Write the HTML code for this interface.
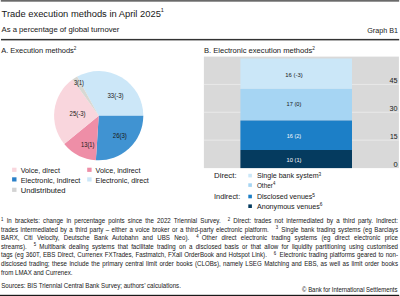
<!DOCTYPE html>
<html><head><meta charset="utf-8">
<style>
html,body{margin:0;padding:0;background:#fff;}
body{width:400px;height:296px;overflow:hidden;position:relative;font-family:"Liberation Sans",sans-serif;color:#1a1a1a;}
svg{position:absolute;left:0;top:0;}
svg text{font-family:"Liberation Sans",sans-serif;}
.fn{position:absolute;left:1px;width:431.5px;transform:scaleX(0.92);transform-origin:0 0;font-size:6.7px;line-height:8px;height:8px;white-space:nowrap;text-align:justify;text-align-last:justify;color:#1a1a1a;-webkit-text-stroke:0.03px #222;}
.fn i.a{display:inline-block;width:3.6px;}
.fn i.b{display:inline-block;width:7.6px;}
.fn sup{font-size:4.6px;vertical-align:0;position:relative;top:-2.3px;}
</style></head>
<body>
<svg width="400" height="296" viewBox="0 0 400 296">
<rect x="0.8" y="0" width="398.4" height="1.7" fill="#6a6a6a"/>
<text transform="translate(1.6,16.5) scale(0.9455,1)" font-size="9.90" fill="#1a1a1a" stroke="#1a1a1a" stroke-width="0.03" text-anchor="start">Trade execution methods in April 2025<tspan font-size="5.80" dy="-4.50">1</tspan></text>
<text transform="translate(1.5,32.3) scale(0.9787,1)" font-size="7.90" fill="#1a1a1a" stroke="#1a1a1a" stroke-width="0.03" text-anchor="start">As a percentage of global turnover</text>
<text transform="translate(398,32.6) scale(0.9724,1)" font-size="7.40" fill="#1a1a1a" stroke="#1a1a1a" stroke-width="0.03" text-anchor="end">Graph B1</text>
<rect x="1" y="38.9" width="398.2" height="1.5" fill="#333"/>
<text transform="translate(1.2,52.6) scale(0.9595,1)" font-size="7.80" fill="#1a1a1a" stroke="#1a1a1a" stroke-width="0.03" text-anchor="start">A. Execution methods<tspan font-size="4.80" dy="-2.80">2</tspan></text>
<path fill="#cce7f8" d="M98.7,115.7 L77.21,76.62 A44.6,44.6 0 0 1 143.30,115.70 Z"/>
<path fill="#4093d2" d="M98.7,115.7 L143.30,115.70 A44.6,44.6 0 0 1 95.90,160.21 Z"/>
<path fill="#ee8ea7" d="M98.7,115.7 L95.90,160.21 A44.6,44.6 0 0 1 64.24,144.01 Z"/>
<path fill="#f9d6dd" d="M98.7,115.7 L64.24,144.01 A44.6,44.6 0 0 1 72.48,79.62 Z"/>
<path fill="#d8d8d3" d="M98.7,115.7 L72.48,79.62 A44.6,44.6 0 0 1 77.21,76.62 Z"/>
<text transform="translate(115.5,97.6) scale(0.9145,1)" font-size="6.60" fill="#1a1a1a" stroke="#1a1a1a" stroke-width="0.03" text-anchor="middle">33(-3)</text>
<text transform="translate(119.8,137.5) scale(0.9086,1)" font-size="6.60" fill="#1a1a1a" stroke="#1a1a1a" stroke-width="0.03" text-anchor="middle">26(3)</text>
<text transform="translate(87.7,147.1) scale(0.8697,1)" font-size="6.60" fill="#1a1a1a" stroke="#1a1a1a" stroke-width="0.03" text-anchor="middle">13(1)</text>
<text transform="translate(77.6,116.1) scale(0.9088,1)" font-size="6.60" fill="#1a1a1a" stroke="#1a1a1a" stroke-width="0.03" text-anchor="middle">25(-3)</text>
<text transform="translate(79,84.8) scale(0.8520,1)" font-size="6.60" fill="#1a1a1a" stroke="#1a1a1a" stroke-width="0.03" text-anchor="middle">3(1)</text>
<rect x="12.1" y="167.7" width="4.4" height="4.2" fill="#f9d6dd"/>
<rect x="12.1" y="177.3" width="4.4" height="4.2" fill="#2a80c8"/>
<rect x="12.1" y="187.7" width="4.4" height="4.2" fill="#d3d3d3"/>
<rect x="87.2" y="167.7" width="4.4" height="4.2" fill="#ee8ea7"/>
<rect x="87.2" y="177.3" width="4.4" height="4.2" fill="#cce7f8"/>
<text transform="translate(20.7,172.6) scale(0.9249,1)" font-size="7.80" fill="#1a1a1a" stroke="#1a1a1a" stroke-width="0.03" text-anchor="start">Voice, direct</text>
<text transform="translate(20.7,182.5) scale(0.9384,1)" font-size="7.80" fill="#1a1a1a" stroke="#1a1a1a" stroke-width="0.03" text-anchor="start">Electronic, indirect</text>
<text transform="translate(20.7,192.6) scale(0.9748,1)" font-size="7.80" fill="#1a1a1a" stroke="#1a1a1a" stroke-width="0.03" text-anchor="start">Undistributed</text>
<text transform="translate(95.6,172.6) scale(0.9226,1)" font-size="7.80" fill="#1a1a1a" stroke="#1a1a1a" stroke-width="0.03" text-anchor="start">Voice, indirect</text>
<text transform="translate(95.6,182.5) scale(0.9262,1)" font-size="7.80" fill="#1a1a1a" stroke="#1a1a1a" stroke-width="0.03" text-anchor="start">Electronic, direct</text>
<text transform="translate(203.9,52.6) scale(0.9746,1)" font-size="7.80" fill="#1a1a1a" stroke="#1a1a1a" stroke-width="0.03" text-anchor="start">B. Electronic execution methods<tspan font-size="4.80" dy="-2.80">2</tspan></text>
<rect x="203.9" y="56.6" width="195" height="111.5" fill="#d9d9d9"/>
<rect x="203.9" y="83.9" width="195" height="0.8" fill="#ededed"/>
<rect x="203.9" y="111.8" width="195" height="0.8" fill="#ededed"/>
<rect x="203.9" y="139.7" width="195" height="0.8" fill="#ededed"/>
<rect x="240.4" y="58.5" width="111.6" height="30.4" fill="#cbe7f8"/>
<rect x="240.4" y="88.9" width="111.6" height="31.6" fill="#a6d5f3"/>
<rect x="240.4" y="120.5" width="111.6" height="29.5" fill="#1c7fc7"/>
<rect x="240.4" y="150" width="111.6" height="18.1" fill="#053b5f"/>
<text transform="translate(294,76.5) scale(0.9528,1)" font-size="6.20" fill="#1a1a1a" stroke="#1a1a1a" stroke-width="0.03" text-anchor="middle">16 (-3)</text>
<text transform="translate(294,106.3) scale(0.9138,1)" font-size="6.20" fill="#1a1a1a" stroke="#1a1a1a" stroke-width="0.03" text-anchor="middle">17 (0)</text>
<text transform="translate(294,138.4) scale(0.8891,1)" font-size="6.20" fill="#f2f6fa" stroke="#f2f6fa" stroke-width="0.03" text-anchor="middle">16 (2)</text>
<text transform="translate(294,162.2) scale(0.9200,1)" font-size="6.20" fill="#f2f6fa" stroke="#f2f6fa" stroke-width="0.03" text-anchor="middle">10 (1)</text>
<text transform="translate(397.6,82.9) scale(0.9719,1)" font-size="7.40" fill="#1a1a1a" stroke="#1a1a1a" stroke-width="0.03" text-anchor="end">45</text>
<text transform="translate(397.6,110.8) scale(0.9719,1)" font-size="7.40" fill="#1a1a1a" stroke="#1a1a1a" stroke-width="0.03" text-anchor="end">30</text>
<text transform="translate(397.6,138.7) scale(0.9233,1)" font-size="7.40" fill="#1a1a1a" stroke="#1a1a1a" stroke-width="0.03" text-anchor="end">15</text>
<text transform="translate(397.6,166.6) scale(1.0205,1)" font-size="7.40" fill="#1a1a1a" stroke="#1a1a1a" stroke-width="0.03" text-anchor="end">0</text>
<text transform="translate(214,177.7) scale(1.0571,1)" font-size="7.40" fill="#1a1a1a" stroke="#1a1a1a" stroke-width="0.03" text-anchor="start">Direct:</text>
<text transform="translate(214,198.9) scale(0.9953,1)" font-size="7.40" fill="#1a1a1a" stroke="#1a1a1a" stroke-width="0.03" text-anchor="start">Indirect:</text>
<text transform="translate(256.9,178.2) scale(0.9631,1)" font-size="7.40" fill="#1a1a1a" stroke="#1a1a1a" stroke-width="0.03" text-anchor="start">Single bank system<tspan font-size="5.00" dy="-2.70">3</tspan></text>
<text transform="translate(256.9,188.1) scale(0.8645,1)" font-size="7.40" fill="#1a1a1a" stroke="#1a1a1a" stroke-width="0.03" text-anchor="start">Other<tspan font-size="5.00" dy="-2.70">4</tspan></text>
<text transform="translate(256.9,199.2) scale(0.9569,1)" font-size="7.40" fill="#1a1a1a" stroke="#1a1a1a" stroke-width="0.03" text-anchor="start">Disclosed venues<tspan font-size="5.00" dy="-2.70">5</tspan></text>
<text transform="translate(256.9,208.8) scale(0.9693,1)" font-size="7.40" fill="#1a1a1a" stroke="#1a1a1a" stroke-width="0.03" text-anchor="start">Anonymous venues<tspan font-size="5.00" dy="-2.70">6</tspan></text>
<rect x="248.3" y="173.8" width="3.6" height="3.6" fill="#cbe7f8"/>
<rect x="248.3" y="183.3" width="3.6" height="3.6" fill="#a6d5f3"/>
<rect x="248.3" y="194.7" width="3.6" height="3.6" fill="#1c7fc7"/>
<rect x="248.3" y="204.4" width="3.6" height="3.6" fill="#053b5f"/>
<text transform="translate(1.2,288.4) scale(0.9340,1)" font-size="6.60" fill="#1a1a1a" stroke="#1a1a1a" stroke-width="0.03" text-anchor="start">Sources: BIS Triennial Central Bank Survey; authors’ calculations.</text>
<text transform="translate(397.4,292) scale(0.9290,1)" font-size="6.40" fill="#1a1a1a" stroke="#1a1a1a" stroke-width="0.03" text-anchor="end">© Bank for International Settlements</text>
<rect x="0" y="294.8" width="399.2" height="1.2" fill="#1a1a1a"/>
</svg>
<div class="fn" style="top:217px"><sup>1</sup><i class=a></i>In brackets: change in percentage points since the 2022 Triennial Survey.<i class=b></i><sup>2</sup><i class=a></i>Direct: trades not intermediated by a third party. Indirect:</div>
<div class="fn" style="top:225.5px">trades intermediated by a third party – either a voice broker or a third-party electronic platform.<i class=b></i><sup>3</sup><i class=a></i>Single bank trading systems (eg Barclays</div>
<div class="fn" style="top:234.1px">BARX, Citi Velocity, Deutsche Bank Autobahn and UBS Neo).<i class=b></i><sup>4</sup><i class=a></i>Other direct electronic trading systems (eg direct electronic price</div>
<div class="fn" style="top:242.7px">streams).<i class=b></i><sup>5</sup><i class=a></i>Multibank dealing systems that facilitate trading on a disclosed basis or that allow for liquidity partitioning using customised</div>
<div class="fn" style="top:251.3px">tags (eg 360T, EBS Direct, Currenex FXTrades, Fastmatch, FXall OrderBook and Hotspot Link).<i class=b></i><sup>6</sup><i class=a></i>Electronic trading platforms geared to non-</div>
<div class="fn" style="top:260.3px">disclosed trading; these include the primary central limit order books (CLOBs), namely LSEG Matching and EBS, as well as limit order books</div>
<div class="fn" style="top:268.8px;text-align-last:left">from LMAX and Currenex.</div>
</body></html>
